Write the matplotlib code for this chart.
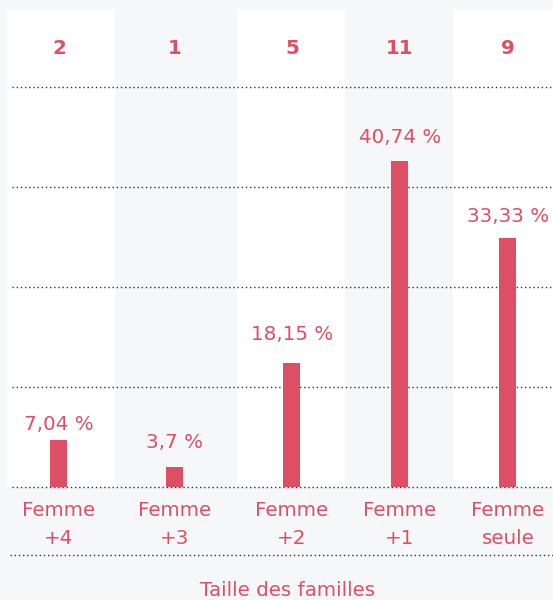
import matplotlib
matplotlib.use("Agg")
import matplotlib.pyplot as plt

# ---- data ----
categories = ["Femme\n+4", "Femme\n+3", "Femme\n+2", "Femme\n+1", "Femme\nseule"]
counts = [2, 1, 5, 11, 9]
bar_values = [5.9, 2.5, 15.5, 40.7, 31.1]
pct_labels = ["7,04 %", "3,7 %", "18,15 %", "40,74 %", "33,33 %"]
axis_title = "Taille des familles"

# ---- layout / style ----
W, H = 553, 600
RED = "#dd4f65"
BG = "#f6f7f9"
FONT = "DejaVu Sans"
FS = 14.3
xpos = [58.5, 174.5, 291.5, 399.5, 507.5]
label_x = [59, 175, 292, 400, 508]
white_cols = [(7, 115), (237, 345), (453, 553)]
label_gap_px = [15, 25, 28, 24, 22]
PX = 8.0  # pixels per unit

fig = plt.figure(figsize=(W / 100, H / 100), dpi=100, facecolor=BG)
top_px, base_px = 10, 487
ax = fig.add_axes([0, (H - base_px) / H, 1, (base_px - top_px) / H])
ax.set_facecolor(BG)
ax.set_xlim(0, W)
ax.set_ylim(0, (base_px - top_px) / PX)
for s in ax.spines.values():
    s.set_visible(False)
ax.set_xticks([])
ax.set_yticks([])

for a, b in white_cols:
    ax.axvspan(a, b, color="white", zorder=0, lw=0)

for g in [0, 12.5, 25, 37.5, 50]:
    ax.plot([12, W], [g, g], color="#333333", lw=1.0, ls=(0, (1, 2)),
            zorder=1, clip_on=False)

ax.bar(xpos, bar_values, width=17, color=RED, zorder=2)

for x, v, t, gap in zip(label_x, bar_values, pct_labels, label_gap_px):
    ax.text(x, v + gap / PX, t, ha="center", va="center", color=RED,
            fontsize=FS, family=FONT)

count_y = (base_px - 48) / PX
for x, c in zip(label_x, counts):
    ax.text(x, count_y, str(c), ha="center", va="center", color=RED,
            fontsize=FS, fontweight="bold", family=FONT)

# category labels below the baseline (figure coords)
for x, cat in zip(label_x, categories):
    l1, l2 = cat.split("\n")
    fig.text(x / W, 1 - 511 / H, l1, ha="center", va="center", color=RED,
             fontsize=FS, family=FONT)
    fig.text(x / W, 1 - 539 / H, l2, ha="center", va="center", color=RED,
             fontsize=FS, family=FONT)

fig.add_artist(plt.Line2D([10 / W, 1], [1 - 555 / H, 1 - 555 / H],
                          color="#333333", lw=1.0, ls=(0, (1, 2))))
fig.text(288 / W, 1 - 590 / H, axis_title, ha="center", va="center",
         color=RED, fontsize=FS, family=FONT)

fig.savefig("out.png", dpi=100, facecolor=BG)
